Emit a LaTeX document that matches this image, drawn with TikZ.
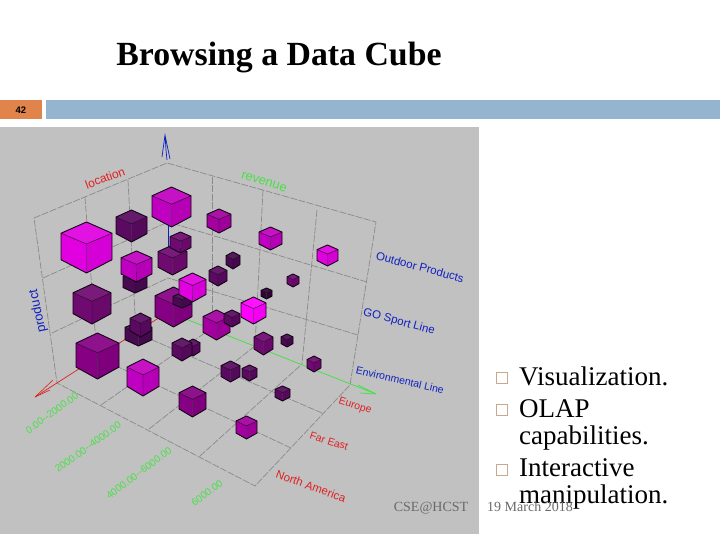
\documentclass[tikz,border=0pt]{standalone}
\usepackage{fontspec}
\setmainfont{Liberation Serif}
\newfontfamily\lsans{Liberation Sans}
\definecolor{panelgray}{HTML}{C1C1C1}
\definecolor{gridgray}{HTML}{8A8A8A}
\definecolor{hdrorange}{HTML}{E0844C}
\definecolor{hdrblue}{HTML}{94B4D0}
\definecolor{axred}{HTML}{E02020}
\definecolor{axgreen}{HTML}{48E048}
\definecolor{axblue}{HTML}{1020C0}
\definecolor{footgray}{HTML}{6A6A6A}
\definecolor{mA}{HTML}{FF00FF}
\definecolor{mB}{HTML}{E000E0}
\definecolor{mC}{HTML}{C000C0}
\definecolor{mD}{HTML}{A400A0}
\definecolor{mE}{HTML}{860084}
\definecolor{mF}{HTML}{6E0A70}
\definecolor{mG}{HTML}{5A0A60}
\definecolor{mH}{HTML}{480A50}
\definecolor{mI}{HTML}{300535}
\newcommand{\boxcube}[5]{%
  \pgfmathsetmacro\cl{#1}\pgfmathsetmacro\cr{#2}%
  \pgfmathsetmacro\cm{(#1+#2)/2}%
  \pgfmathsetmacro\ct{#3}\pgfmathsetmacro\cb{#4}%
  \pgfmathsetmacro\cu{#3+0.22*(#4-#3)}%
  \pgfmathsetmacro\cv{#3+0.43*(#4-#3)}%
  \pgfmathsetmacro\cd{#3+0.74*(#4-#3)}%
  \fill[#5!93!white] (\cm,\ct) -- (\cr,\cu) -- (\cm,\cv) -- (\cl,\cu) -- cycle;
  \fill[#5] (\cl,\cu) -- (\cm,\cv) -- (\cm,\cb) -- (\cl,\cd) -- cycle;
  \fill[#5!95!black] (\cr,\cu) -- (\cm,\cv) -- (\cm,\cb) -- (\cr,\cd) -- cycle;
  \draw[cubeedge] (\cl,\cu) -- (\cm,\ct) -- (\cr,\cu) -- (\cr,\cd) -- (\cm,\cb) -- (\cl,\cd) -- cycle;
  \draw[cubeinner] (\cl,\cu) -- (\cm,\cv) -- (\cr,\cu) (\cm,\cv) -- (\cm,\cb);
}
\tikzset{
  cubeedge/.style={draw=black!75!mH,line width=0.9pt,line join=round},
  cubeinner/.style={draw=black!55!mH,line width=0.4pt},
  gridline/.style={draw=gridgray,line width=0.7pt,dash pattern=on 7pt off 1.5pt},
  axlabel/.style={font=\lsans\fontsize{11.5}{11.5}\selectfont,inner sep=0pt},
  redlabel/.style={font=\lsans\fontsize{10.5}{10.5}\selectfont,inner sep=0pt,text=axred},
  greenlabel/.style={font=\lsans\fontsize{10}{10}\selectfont,inner sep=0pt,text=axgreen},
  slide/.style={font=\fontsize{27}{27}\selectfont,anchor=base west,inner sep=0pt},
  bulletbox/.style={draw={rgb,255:red,200;green,168;blue,144},fill=white,line width=0.7pt,minimum size=10.5pt,inner sep=0pt},
  foot/.style={font=\fontsize{14}{14}\selectfont,text=footgray,inner sep=0pt}
}
\begin{document}
\begin{tikzpicture}[x=1pt,y=-1pt]
\useasboundingbox (0,0) rectangle (720,540);
\fill[white] (0,0) rectangle (720,540);
\node[font=\bfseries\fontsize{33.8}{34}\selectfont,inner sep=0pt] (title) at (279,58) {Browsing a Data Cube};
\fill[hdrorange] (0,100) rectangle (42,119);
\fill[hdrblue] (46,100) rectangle (720,119);
\node[font=\lsans\bfseries\fontsize{9.5}{9.5}\selectfont,inner sep=0pt] (num) at (21,110) {42};
\fill[panelgray] (0,127) rectangle (479,534);
% frame
\coordinate (A) at (167,163); \coordinate (L) at (34,218); \coordinate (R) at (376,222);
\coordinate (O) at (168,312); \coordinate (FL) at (57,383); \coordinate (FR) at (350,385);
\coordinate (F) at (255,486);
\coordinate (RT) at (35,397); \coordinate (GT) at (376,394); \coordinate (BT) at (165,135);
\coordinate (BA) at (168,205); \coordinate (BB) at (168,255); \coordinate (BC) at (167,160);
\draw[gridline] (L) -- (A) -- (R) -- (FR) -- (F) -- (FL) -- cycle;
% left wall
\draw[gridline] (43,278) -- (168,222);
\draw[gridline] (52,333) -- (168,278);
\draw[gridline] (85,197) -- (97,357);
\draw[gridline] (128,180) -- (136,333);
% right wall
\draw[gridline] (367,282) -- (168,222);
\draw[gridline] (358,335) -- (168,278);
\draw[gridline] (212,177) -- (212,328);
\draw[gridline] (263,190) -- (255,346);
\draw[gridline] (317,210) -- (302,364);
% floor
\draw[gridline] (101,405) -- (212,328);
\draw[gridline] (149,429) -- (255,346);
\draw[gridline] (200,456) -- (302,364);
\draw[gridline] (291,448) -- (97,357);
\draw[gridline] (322,413) -- (136,333);
% axes
\draw[axblue,line width=0.9pt] (BA) -- (BB);
\draw[axblue,line width=0.7pt] (BC) -- (166,150) -- (BT) (162,157) -- (BT) -- (170,159);
\draw[axred,line width=0.7pt] (O) -- (RT);
\draw[axred,line width=0.6pt] (RT) -- (53,380) (RT) -- (50,390);
\draw[axgreen,line width=0.8pt] (O) -- (GT);
\draw[axgreen,line width=0.7pt] (GT) -- (358,385) (GT) -- (360,393);
% cubes, back to front
\boxcube{207}{231}{209}{233}{mD}
\boxcube{116}{147}{210}{242}{mG}
\boxcube{158}{187}{245}{275}{mF}
\boxcube{170}{191}{232}{253}{mF}
\boxcube{152}{191}{187}{227}{mC}
\boxcube{259}{282}{227}{250}{mC}
\boxcube{317}{338}{245}{266}{mB}
\boxcube{226}{240}{252}{269}{mH}
\boxcube{209}{227}{266}{286}{mG}
\boxcube{123}{147}{272}{293}{mH}
\boxcube{121}{152}{251}{282}{mC}
\boxcube{61}{112}{222}{273}{mB}
\boxcube{287}{299}{274}{287}{mF}
\boxcube{261}{272}{288}{299}{mI}
\boxcube{155}{192}{287}{327}{mE}
\boxcube{173}{191}{293}{308}{mH}
\boxcube{179}{206}{273}{302}{mB}
\boxcube{73}{111}{284}{324}{mF}
\boxcube{125}{152}{322}{346}{mH}
\boxcube{130}{151}{313}{337}{mG}
\boxcube{241}{266}{297}{324}{mA}
\boxcube{203}{230}{310}{340}{mD}
\boxcube{224}{240}{310}{327}{mG}
\boxcube{254}{273}{332}{355}{mF}
\boxcube{281}{293}{334}{347}{mH}
\boxcube{186}{200}{339}{356}{mG}
\boxcube{172}{192}{338}{361}{mG}
\boxcube{307}{321}{356}{372}{mF}
\boxcube{76}{119}{333}{379}{mE}
\boxcube{127}{159}{359}{396}{mC}
\boxcube{221}{240}{361}{382}{mG}
\boxcube{242}{257}{365}{381}{mG}
\boxcube{179}{206}{386}{417}{mE}
\boxcube{275}{290}{386}{401}{mG}
\boxcube{236}{257}{416}{439}{mD}
% axis labels
\node[axlabel,text=axred,rotate=20,font=\lsans\fontsize{12}{12}\selectfont] (loc) at (105,178) {location};
\node[axlabel,text=axgreen,rotate=-17,font=\lsans\fontsize{13}{13}\selectfont] (rev) at (264,182) {revenue};
\node[axlabel,text=axblue,rotate=102,font=\lsans\fontsize{13}{13}\selectfont] (prod) at (38,311) {product};
\node[axlabel,text=axblue,rotate=-15] (p1) at (420,267) {Outdoor Products};
\node[axlabel,text=axblue,rotate=-15] (p2) at (399,322) {GO Sport Line};
\node[axlabel,text=axblue,rotate=-13,font=\lsans\fontsize{10.5}{10.5}\selectfont] (p3) at (400,380) {Environmental Line};
\node[redlabel,rotate=-18] (l1) at (355,406) {Europe};
\node[redlabel,rotate=-18] (l2) at (329,441) {Far East};
\node[redlabel,rotate=-20,font=\lsans\fontsize{11.5}{11.5}\selectfont] (l3) at (311,486) {North America};
\node[greenlabel,rotate=36] (g1) at (52,413) {0.00--2000.00};
\node[greenlabel,rotate=36] (g2) at (88,447) {2000.00--4000.00};
\node[greenlabel,rotate=37] (g3) at (139,473) {4000.00--6000.00};
\node[greenlabel,rotate=37] (g4) at (207,493) {6000.00};
% footer
\node[foot] (cse) at (431,508) {CSE@HCST};
% bullets
\node[bulletbox] (b1) at (502,378) {};
\node[bulletbox] (b2) at (502,410) {};
\node[bulletbox] (b3) at (502,470) {};
\node[slide] (t1) at (519,385) {Visualization.};
\node[slide] (t2) at (519,417) {OLAP};
\node[slide] (t3) at (519,444) {capabilities.};
\node[slide] (t4) at (519,476) {Interactive};
\node[slide] (t5) at (519,503) {manipulation.};
\node[foot] (date) at (530,507) {19 March 2018};
\end{tikzpicture}
\end{document}
